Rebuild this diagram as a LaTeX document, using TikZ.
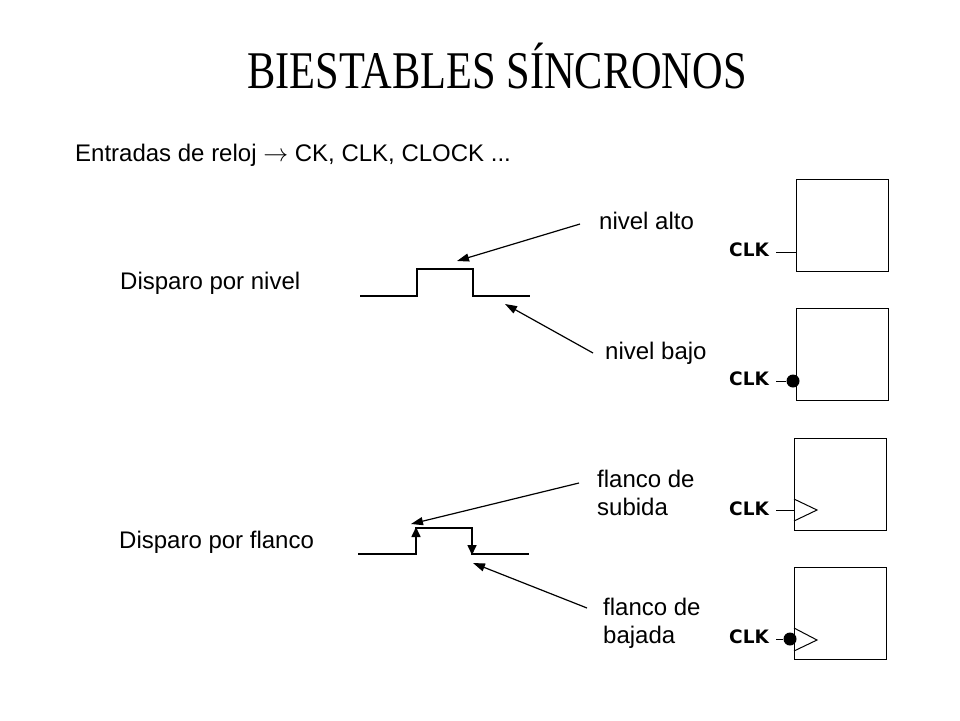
\documentclass[tikz,border=0pt]{standalone}
\usepackage{fontspec}
\setmainfont{Liberation Sans}
\newfontfamily\titlefont{Liberation Serif}
\newfontfamily\clkfont{DejaVu Sans}
\usetikzlibrary{arrows.meta}
\tikzset{
  lbl/.style={anchor=base west, inner sep=0pt, font=\fontsize{24}{28}\selectfont},
  clk/.style={anchor=base west, inner sep=0pt, font=\clkfont\bfseries\fontsize{18.5}{20}\selectfont},
  ptr/.style={line width=1.2pt, -{Triangle[length=12pt,width=8pt]}},
  edgeptr/.style={line width=1.6pt, -{Triangle[length=10pt,width=9pt]}},
  wave/.style={line width=1.8pt},
  ff/.style={draw, line width=1.2pt, minimum width=92pt, minimum height=92pt, inner sep=0pt, anchor=north west},
  lead/.style={line width=1pt},
  bub/.style={circle, fill=black, minimum size=13pt, inner sep=0pt},
}
\begin{document}
\begin{tikzpicture}[x=1pt,y=-1pt]
\useasboundingbox (0,0) rectangle (960,720);
\fill[white] (0,0) rectangle (960,720);

% title
\node[anchor=base, inner sep=0pt] (title) at (497,88) {\scalebox{0.8}[1]{\titlefont\fontsize{53}{60}\selectfont BIESTABLES SÍNCRONOS}};

\node[lbl] (entr) at (75,161) {Entradas de reloj $\rightarrow$ CK, CLK, CLOCK ...};

\node[lbl] (dn) at (120,289) {Disparo por nivel};
\node[lbl] (df) at (119,548) {Disparo por flanco};

\node[lbl] (na) at (599,229) {nivel alto};
\node[lbl] (nb) at (605,359) {nivel bajo};
\node[lbl, align=left, anchor=north west] (fs) at (597,470) {flanco de\\subida};
\node[lbl, align=left, anchor=north west] (fb) at (603,598) {flanco de\\bajada};

% level waveform
\draw[wave] (360,296) -- (417,296) -- (417,269) -- (473,269) -- (473,296) -- (530,296);
\coordinate (naS) at (580,224);
\coordinate (naE) at (457,261);
\draw[ptr] (naS) -- (naE);
\coordinate (nbS) at (593,353);
\coordinate (nbE) at (505,304);
\draw[ptr] (nbS) -- (nbE);

% edge waveform
\draw[wave] (358,554) -- (416,554) -- (416,528) -- (472,528) -- (472,554) -- (529,554);
\coordinate (upA) at (416,546);
\coordinate (upB) at (416,527);
\draw[edgeptr] (upA) -- (upB);
\coordinate (dnA) at (472,536);
\coordinate (dnB) at (472,555);
\draw[edgeptr] (dnA) -- (dnB);
\coordinate (fsS) at (579,483);
\coordinate (fsE) at (411,524);
\draw[ptr] (fsS) -- (fsE);
\coordinate (fbS) at (587,608);
\coordinate (fbE) at (473,563);
\draw[ptr] (fbS) -- (fbE);

% flip-flop boxes
\node[ff] (b1) at (796,179) {};
\node[ff] (b2) at (796,308) {};
\node[ff] (b3) at (794,438) {};
\node[ff] (b4) at (794,567) {};

\node[clk] (c1) at (729,256) {CLK};
\node[clk] (c2) at (729,385) {CLK};
\node[clk] (c3) at (729,515) {CLK};
\node[clk] (c4) at (729,643) {CLK};

\coordinate (l1) at (776,252);
\draw[lead] (l1) -- (b1.west |- l1);

\coordinate (l2) at (776,381);
\node[bub] (p2) at (793,381) {};
\draw[lead] (l2) -- (p2);

\coordinate (l3) at (776,510);
\draw[lead] (l3) -- (b3.west |- l3);
\draw[lead] (794,499) -- (817,510) -- (794,521);

\coordinate (l4) at (776,639);
\node[bub] (p4) at (790,639) {};
\draw[lead] (l4) -- (p4);
\draw[lead] (794,628) -- (817,640) -- (794,651);
\end{tikzpicture}
\end{document}
